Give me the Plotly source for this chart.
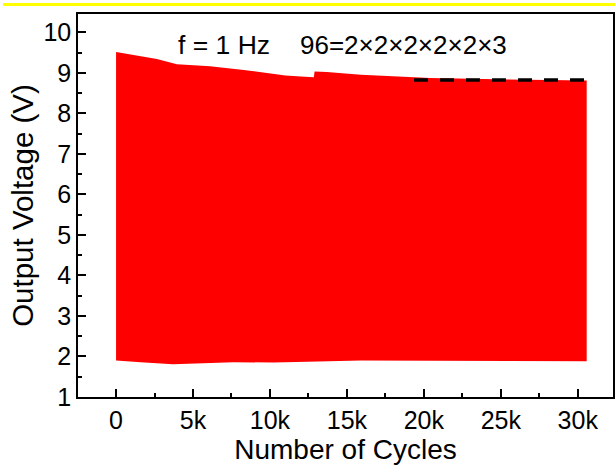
import plotly.graph_objects as go

# Upper envelope of the output voltage (cycles, volts)
upper_x = [0, 1100, 2650, 3950, 6100, 8300, 9800, 11000, 12000, 12850,
           12900, 13700, 15900, 18000, 20400, 23000, 26000, 28500, 30580]
upper_y = [9.51, 9.44, 9.34, 9.21, 9.16, 9.07, 8.99, 8.93, 8.91, 8.89,
           9.03, 9.02, 8.95, 8.91, 8.87, 8.85, 8.83, 8.82, 8.81]

# Lower envelope of the output voltage
lower_x = [0, 1600, 3700, 5500, 7600, 10200, 12400, 15900, 20000, 25000, 30580]
lower_y = [1.90, 1.86, 1.81, 1.84, 1.86, 1.85, 1.87, 1.90, 1.89, 1.89, 1.88]

# Dashed reference level
ref_x = [19360, 30600]
ref_y = [8.82, 8.82]

x_tickvals = [0, 5000, 10000, 15000, 20000, 25000, 30000]
x_ticktext = ["0", "5k", "10k", "15k", "20k", "25k", "30k"]
y_tickvals = [1, 2, 3, 4, 5, 6, 7, 8, 9, 10]

FONT = "Liberation Sans, Arial, sans-serif"

poly_x = upper_x + lower_x[::-1]
poly_y = upper_y + lower_y[::-1]

fig = go.Figure()
fig.add_trace(go.Scatter(x=poly_x, y=poly_y, mode="lines", fill="toself",
                         fillcolor="#ff0000", line=dict(width=0, color="#ff0000"),
                         hoverinfo="skip", showlegend=False))
fig.add_trace(go.Scatter(x=ref_x, y=ref_y, mode="lines",
                         line=dict(color="black", width=3.5, dash="14px,12px"),
                         showlegend=False))

L, R, T, B = 78, 613, 14, 397

fig.update_layout(
    width=615, height=467,
    margin=dict(l=L, r=615 - R, t=T, b=467 - B),
    paper_bgcolor="white", plot_bgcolor="white",
    font=dict(family=FONT, color="black", size=25),
    showlegend=False,
)
fig.update_xaxes(
    range=[-2474, 32290], showgrid=False, zeroline=False, automargin=False,
    showline=True, linecolor="black", linewidth=1.5, mirror=True,
    ticks="inside", ticklen=8, tickwidth=1.5, tickcolor="black",
    tickvals=x_tickvals, ticktext=x_ticktext, ticklabelstandoff=0,
    minor=dict(ticks="inside", ticklen=4, dtick=2500, tick0=0, tickcolor="black", tickwidth=1.5),
    tickfont=dict(size=25, family=FONT),
    title=dict(text="Number of Cycles", font=dict(size=28, family=FONT), standoff=2),
)
fig.update_yaxes(
    range=[1, 10.45], showgrid=False, zeroline=False, automargin=False,
    showline=True, linecolor="black", linewidth=1.5, mirror=True,
    ticks="inside", ticklen=8, tickwidth=1.5, tickcolor="black",
    tickvals=y_tickvals, ticklabelstandoff=0,
    minor=dict(ticks="inside", ticklen=4, dtick=0.5, tick0=0, tickcolor="black", tickwidth=1.5),
    tickfont=dict(size=25, family=FONT),
    title=dict(text="Output Voltage (V)", font=dict(size=29.5, family=FONT), standoff=1),
)

def px2paper(px, py):
    return (px - L) / (R - L), (B - py) / (B - T)

ax1, ay1 = px2paper(176, 45)
ax2, ay2 = px2paper(298, 45)
fig.add_annotation(x=ax1, y=ay1, xref="paper", yref="paper", text="f = 1 Hz",
                   showarrow=False, xanchor="left", yanchor="middle",
                   font=dict(size=26.5, family=FONT))
fig.add_annotation(x=ax2, y=ay2, xref="paper", yref="paper", text="96=2×2×2×2×2×3",
                   showarrow=False, xanchor="left", yanchor="middle",
                   font=dict(size=26, family=FONT))

# yellow line across the top of the picture
yx0, yy = px2paper(3, 4.5)
yx1, _ = px2paper(615, 4.5)
fig.add_shape(type="line", xref="paper", yref="paper",
              x0=yx0, x1=yx1, y0=yy, y1=yy,
              line=dict(color="#ffff00", width=3))

fig.write_html("out.html", config={"displayModeBar": False},
               post_script="document.body.style.margin='0';document.body.style.overflow='hidden';")
